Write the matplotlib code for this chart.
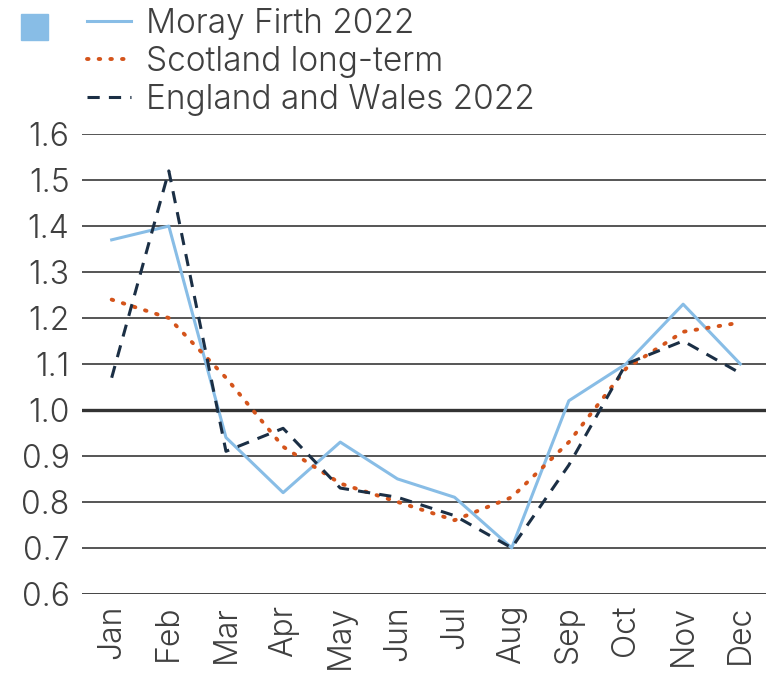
import matplotlib.pyplot as plt
from matplotlib.lines import Line2D
from matplotlib.patches import Patch

months = ["Jan", "Feb", "Mar", "Apr", "May", "Jun", "Jul", "Aug", "Sep", "Oct", "Nov", "Dec"]
moray_2022 = [1.37, 1.40, 0.94, 0.82, 0.93, 0.85, 0.81, 0.70, 1.02, 1.10, 1.23, 1.10]
scotland_lt = [1.24, 1.20, 1.07, 0.92, 0.84, 0.80, 0.76, 0.81, 0.93, 1.09, 1.17, 1.19]
eng_wales_2022 = [1.07, 1.52, 0.91, 0.96, 0.83, 0.81, 0.77, 0.70, 0.88, 1.10, 1.15, 1.08]
y_ticks = [0.6, 0.7, 0.8, 0.9, 1.0, 1.1, 1.2, 1.3, 1.4, 1.5, 1.6]

plt.rcParams["font.family"] = ["Inter", "DejaVu Sans"]

c_moray = "#88bde6"
c_scot = "#d4541b"
c_ew = "#1b2f45"
c_text = "#404040"

fig = plt.figure(figsize=(7.66, 6.74), dpi=100)
ax = fig.add_axes([0.107, 0.119, 0.893, 0.682])

for y in y_ticks:
    if y == 1.0:
        ax.axhline(y, color="#333333", lw=2.4, zorder=1)
    elif y == 0.6:
        ax.axhline(y, color="#333333", lw=2.0, zorder=1)
    else:
        ax.axhline(y, color="#555555", lw=1.4, zorder=1)

x = range(len(months))
ax.plot(x, moray_2022, color=c_moray, lw=2.2, zorder=3)
ax.plot(x, scotland_lt, color=c_scot, lw=2.8, ls=(0, (0.4, 2.6)),
        dash_capstyle="round", zorder=3)
ax.plot(x, eng_wales_2022, color=c_ew, lw=2.2, ls=(0, (4, 3)), zorder=4)

ax.set_xlim(-0.52, 11.45)
ax.set_ylim(0.6, 1.6)
ax.set_yticks(y_ticks)
ax.set_yticklabels([f"{v:.1f}" for v in y_ticks], fontsize=23, color=c_text, fontweight=350)
ax.set_xticks(list(x))
ax.set_xticklabels(months, rotation=90, fontsize=23, color=c_text, fontweight=350)
ax.tick_params(length=0, pad=8)
ax.tick_params(axis="y", pad=9)
for s in ax.spines.values():
    s.set_visible(False)

handles = [
    Line2D([], [], color=c_moray, lw=2.2),
    Line2D([], [], color=c_scot, lw=2.8, ls=(0, (0.4, 2.6)), dash_capstyle="round"),
    Line2D([], [], color=c_ew, lw=2.2, ls=(0, (4, 3))),
]
labels = ["Moray Firth 2022", "Scotland long-term", "England and Wales 2022"]
leg = fig.legend(handles, labels, loc="upper left", bbox_to_anchor=(0.075, 1.033),
                 frameon=False, handlelength=1.3, handletextpad=0.45,
                 labelspacing=0.18, prop={"size": 24, "weight": 350})
for t in leg.get_texts():
    t.set_color(c_text)

fig.legend([Patch(color=c_moray)], [""], loc="upper left", bbox_to_anchor=(-0.01, 1.022),
           frameon=False, handlelength=0.85, handleheight=0.85, prop={"size": 23})

fig.savefig("out.png", dpi=100)
